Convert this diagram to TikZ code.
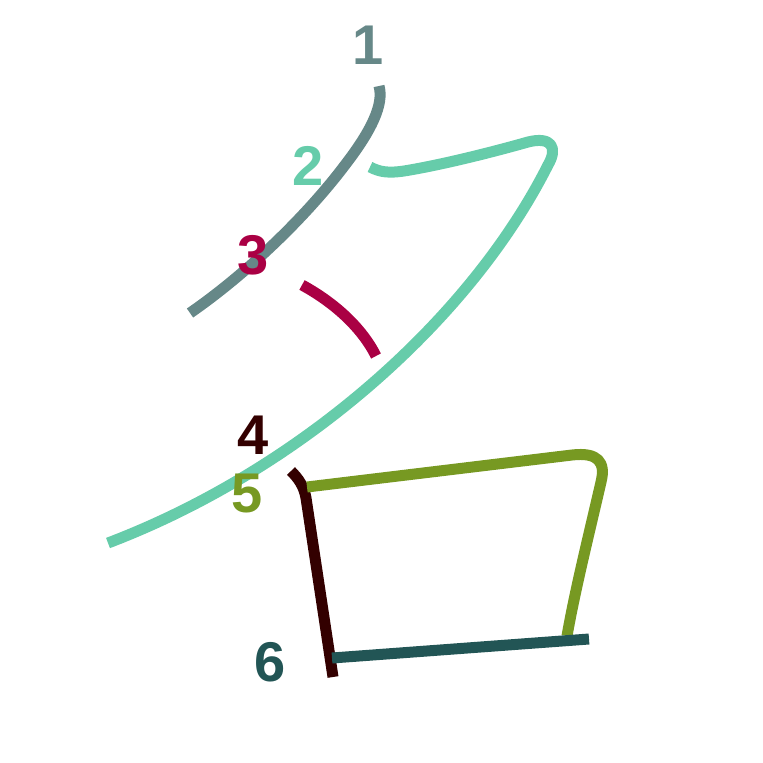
\documentclass[tikz,border=0pt]{standalone}
\usepackage{fontspec}
\setmainfont{Liberation Sans}
\definecolor{cA}{HTML}{668888}
\definecolor{cB}{HTML}{66CCAA}
\definecolor{cC}{HTML}{AA0044}
\definecolor{cD}{HTML}{330000}
\definecolor{cE}{HTML}{779922}
\definecolor{cF}{HTML}{225555}
\tikzset{
  stroke/.style={line width=11pt, line cap=butt, line join=round},
  num/.style={font=\fontsize{56}{56}\selectfont\bfseries, inner sep=0pt, anchor=center}
}
\begin{document}
\begin{tikzpicture}[x=1pt,y=-1pt]
\useasboundingbox (0,0) rectangle (763,763);
% stroke 1
\draw[stroke,cA] (379,86) .. controls (384,104) and (372,130) .. (345,165) .. controls (305,218) and (245,275) .. (190,313);
% stroke 2
\draw[stroke,cB] (370,167) .. controls (380,172) and (388,174) .. (410,170) .. controls (450,163) and (500,150) .. (528,142) .. controls (552,136) and (558,148) .. (548,165) .. controls (470,320) and (300,470) .. (108,543);
% stroke 3
\draw[stroke,cC] (302,285) .. controls (335,303) and (362,328) .. (376,356);
% stroke 4
\draw[stroke,cD] (291,471) .. controls (298,478) and (304,486) .. (306,498) -- (333,677);
% stroke 5
\draw[stroke,cE] (307,487) -- (572,455) .. controls (598,452) and (606,462) .. (601,482) .. controls (590,530) and (575,590) .. (567,636);
% stroke 6
\draw[stroke,cF] (332,658) -- (589,639);
% labels
\node[num,text=cA] (n1) at (368,45) {1};
\node[num,text=cB] (n2) at (308,166) {2};
\node[num,text=cC] (n3) at (253,255) {3};
\node[num,text=cD] (n4) at (253,435) {4};
\node[num,text=cE] (n5) at (247,494) {5};
\node[num,text=cF] (n6) at (270,662) {6};
\end{tikzpicture}
\end{document}
